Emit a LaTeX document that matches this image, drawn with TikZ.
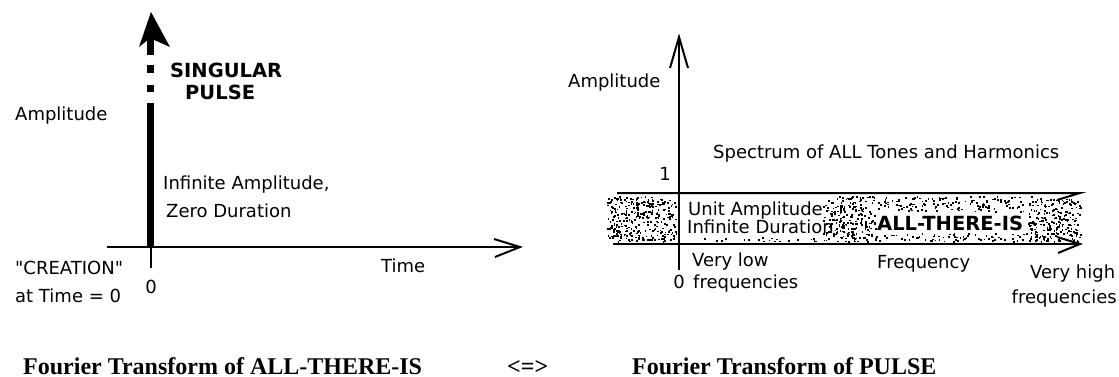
\documentclass[tikz,border=0pt]{standalone}
\usepackage{fontspec}
\newfontfamily\labfont{DejaVu Sans}
\newfontfamily\capfont{Liberation Serif}
\begin{document}
\begin{tikzpicture}[x=1pt,y=-1pt,
  lbl/.style={font=\labfont\fontsize{18}{20}\selectfont, inner sep=0pt, anchor=base west},
  blbl/.style={lbl, font=\labfont\bfseries\fontsize{19.5}{22}\selectfont},
  captext/.style={font=\capfont\bfseries\fontsize{24}{28}\selectfont, inner sep=0pt, text depth=0pt, anchor=base west},
  axisline/.style={line width=2pt},
  pulseline/.style={line width=7pt},
  dotfill/.style={fill=black}]
\useasboundingbox (0,0) rectangle (1119,377);

% ---------- left plot ----------
\coordinate (L0) at (107,247);
\coordinate (L1) at (520,247);
\coordinate (O1) at (150.5,247);
\coordinate (O1b) at (150.5,268);
\draw[axisline] (L0) -- (L1);
\draw[axisline] (L1) ++(-26,-8) -- (L1) -- ++(-25,10);
\draw[axisline] (O1) -- (O1b);

% pulse
\coordinate (Ptip) at (151,12);
\coordinate (Ps1) at (150.5,38);
\coordinate (Ps2) at (150.5,55);
\coordinate (Pd1a) at (150.5,65);
\coordinate (Pd1b) at (150.5,73);
\coordinate (Pd2a) at (150.5,85);
\coordinate (Pd2b) at (150.5,92);
\coordinate (Pb) at (150.5,103);
\fill (Ptip) -- (170,47) -- (152,39) -- (149,39) -- (139,47) -- cycle;
\draw[pulseline] (Ps1) -- (Ps2);
\draw[pulseline] (Pd1a) -- (Pd1b);
\draw[pulseline] (Pd2a) -- (Pd2b);
\draw[pulseline] (Pb) -- (O1);

\node[blbl] (sing) at (170,78) {SINGULAR};
\node[blbl] (puls) at (185,100) {PULSE};
\node[lbl] (ampL) at (15,121) {Amplitude};
\node[lbl] (infA) at (163,189) {Infinite Amplitude,};
\node[lbl] (zero) at (166,217) {Zero Duration};
\node[lbl] (crea) at (15,274) {"CREATION"};
\node[lbl] (attm) at (15,302) {at Time = 0};
\node[lbl, anchor=base] (zl) at (151,293) {0};
\node[lbl] (time) at (381,272) {Time};

% ---------- right plot ----------
\pgfmathsetseed{7}
\foreach \n/\xa/\xw/\ya/\yh in {320/607/69/196/45, 230/823/52/196/45, 230/1028/52/196/45, 130/875/153/196/15, 70/875/153/233/8, 22/686/134/237/4}{
  \foreach \i in {1,...,\n}{
    \pgfmathsetmacro\xx{\xa+\xw*rnd}
    \pgfmathsetmacro\yy{\ya+\yh*rnd}
    \fill[dotfill] (\xx,\yy) rectangle ++(1.7,1.7);
  }
}

\coordinate (R0) at (679,270);
\coordinate (R1) at (679,37);
\coordinate (T0) at (617,193);
\coordinate (T1) at (1080,193);
\coordinate (B0) at (613,244);
\coordinate (B1) at (1080,244);
\draw[axisline] (R0) -- (R1);
\draw[axisline] (R1) ++(-9,31) -- (R1) -- ++(9,31);
\draw[axisline] (T0) -- (T1) -- ++(-23,7);
\draw[axisline] (B0) -- (B1);
\draw[axisline] (B1) ++(-23,-7) -- (B1) -- ++(-22,9);

\node[lbl] (ampR) at (568,88) {Amplitude};
\node[lbl, anchor=base] (one) at (665,180) {1};
\node[lbl] (spec) at (713,158) {Spectrum of ALL Tones and Harmonics};
\node[lbl] (unit) at (688,215) {Unit Amplitude};
\node[lbl] (infD) at (687,233) {Infinite Duration};
\node[blbl] (all) at (877,230) {ALL-THERE-IS};
\node[lbl] (vlow) at (692,266) {Very low};
\node[lbl, anchor=base] (zr) at (679,288) {0};
\node[lbl] (flow) at (693,288) {frequencies};
\node[lbl] (freq) at (877,268) {Frequency};
\node[lbl] (vhigh) at (1030,278) {Very high};
\node[lbl, anchor=base east] (fhigh) at (1117,303) {frequencies};

% ---------- captions ----------
\node[captext] (c1) at (23,374) {Fourier Transform of ALL-THERE-IS};
\node[captext] (c2) at (507,374) {<=>};
\node[captext] (c3) at (632,374) {Fourier Transform of PULSE};
\end{tikzpicture}
\end{document}
